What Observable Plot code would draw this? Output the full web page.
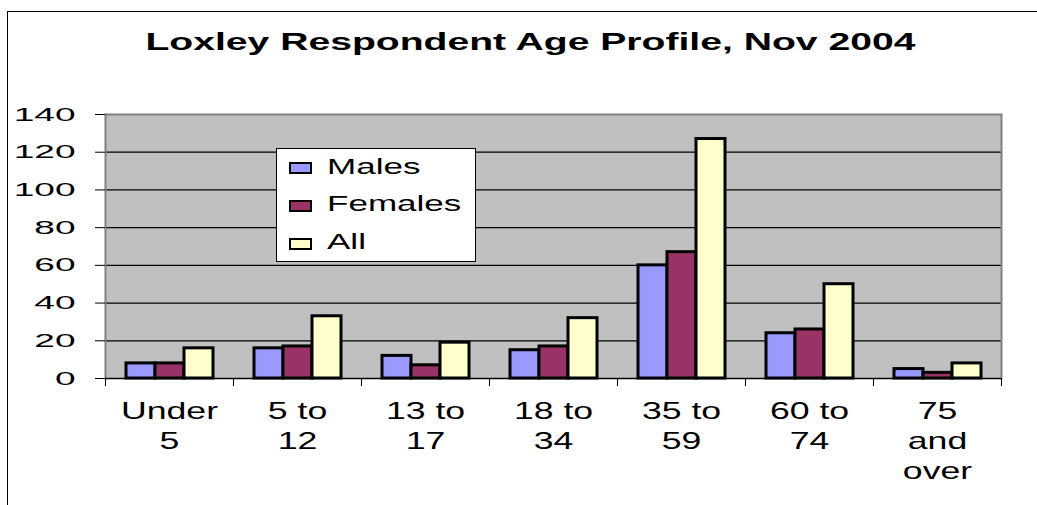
<!DOCTYPE html>
<html>
<head>
<meta charset="utf-8">
<script src="https://cdn.jsdelivr.net/npm/d3@7"></script>
<script src="https://cdn.jsdelivr.net/npm/@observablehq/plot@0.6"></script>
<style>
  html, body { margin: 0; padding: 0; background: white; }
  body { width: 1037px; height: 505px; overflow: hidden; position: relative;
         font-family: "Liberation Sans", Arial, sans-serif; color: black; }
  #page-border { position: absolute; left: 7px; top: 11px; width: 1100px; height: 600px;
         border-left: 1.5px solid black; border-top: 1.5px solid black; pointer-events: none; z-index: 5; }
  #title { position: relative; height: 80px; }
  #title .wrap { position: absolute; left: 0; width: 1060px; top: 30.5px; text-align: center; }
  #title span { display: inline-block; font-weight: bold; font-size: 23px; line-height: 23px;
         transform: scaleX(1.7); transform-origin: center; white-space: nowrap; }
  #chart svg { display: block; }
  #legend { position: absolute; left: 276px; top: 148px; width: 200px; height: 114px; box-sizing: border-box;
         background: white; border: 1.5px solid black; z-index: 4; }
  #legend .sw { position: absolute; width: 23px; height: 12px; box-sizing: border-box; border: 2px solid black; }
  #legend .lb { position: absolute; font-size: 21.5px; line-height: 21.5px; white-space: nowrap;
         transform: scaleX(1.63); transform-origin: left center; }
</style>
</head>
<body>
<div id="page-border"></div>
<div id="title"><div class="wrap"><span id="title-text"></span></div></div>
<div id="chart"></div>
<div id="legend"></div>
<script>
// ---- data ----
const titleText = "Loxley Respondent Age Profile, Nov 2004";
const categories = ["Under\n5", "5 to\n12", "13 to\n17", "18 to\n34", "35 to\n59", "60 to\n74", "75\nand\nover"];
const series = ["Males", "Females", "All"];
const males = [8, 16, 12, 15, 60, 24, 5];
const females = [8, 17, 7, 17, 67, 26, 3];
const all = [16, 33, 19, 32, 127, 50, 8];
const yTicks = [0, 20, 40, 60, 80, 100, 120, 140];
const gridTicks = [20, 40, 60, 80, 100, 120];
const colors = ["#9999FF", "#993366", "#FFFFCC"];

const valuesBySeries = {Males: males, Females: females, All: all};
const rows = [];
categories.forEach((c, i) => series.forEach(s => rows.push({category: c, series: s, value: valuesBySeries[s][i]})));

document.getElementById("title-text").textContent = titleText;

const first = categories[0], last = categories[categories.length - 1];

const plot = Plot.plot({
  width: 1037,
  height: 425,
  marginLeft: 105,
  marginRight: 36,
  marginTop: 34,
  marginBottom: 127,
  style: {fontFamily: "'Liberation Sans', Arial, sans-serif", color: "black", background: "transparent", overflow: "visible"},
  fx: {domain: categories, paddingInner: 0, paddingOuter: 0, label: null},
  x: {domain: series, paddingInner: 0, paddingOuter: 0.66, axis: null},
  y: {domain: [0, 140], axis: null},
  color: {domain: series, range: colors},
  marks: [
    Plot.frame({fill: "#c0c0c0", shapeRendering: "crispEdges"}),
    Plot.gridY({ticks: gridTicks, stroke: "black", strokeOpacity: 1, strokeWidth: 1.2}),
    Plot.ruleY([140], {stroke: "#808080", strokeWidth: 2}),
    Plot.frame({anchor: "left", stroke: "#808080", strokeWidth: 2, fx: () => first}),
    Plot.frame({anchor: "right", stroke: "#808080", strokeWidth: 2, fx: () => last}),
    Plot.barY(rows, {fx: "category", x: "series", y: "value", fill: "series", stroke: "black", strokeWidth: 3}),
    Plot.ruleY([0], {stroke: "black", strokeWidth: 1.5}),
    Plot.frame({anchor: "left", stroke: "black", strokeWidth: 1, insetTop: 264, insetBottom: -7}),
    Plot.frame({anchor: "right", stroke: "black", strokeWidth: 1, insetTop: 264, insetBottom: -7, fx: () => last}),
    Plot.axisY({ticks: yTicks, tickSize: 10, tickPadding: 20, fontSize: 19, label: null, stroke: "black"}),
    Plot.axisFx({anchor: "bottom", tickSize: 0, tickPadding: 19, fontSize: 23, lineHeight: 1.3, label: null})
  ]
});
document.getElementById("chart").appendChild(plot);

// horizontally stretched lettering, as in the reference
function stretch(selector, s) {
  plot.querySelectorAll(selector).forEach(t => {
    const tr = t.getAttribute("transform") || "";
    t.setAttribute("transform", tr + ` scale(${s},1)`);
  });
}
stretch('g[aria-label="y-axis tick label"] text', 1.95);
stretch('g[aria-label="fx-axis tick label"] text', 1.55);

// legend
const legend = document.getElementById("legend");
series.forEach((s, i) => {
  const center = 20.5 + i * 37.75;
  const sw = document.createElement("div");
  sw.className = "sw";
  sw.style.left = "11.5px";
  sw.style.top = (center - 6 - 1.5) + "px";
  sw.style.background = colors[i];
  legend.appendChild(sw);
  const lb = document.createElement("div");
  lb.className = "lb";
  lb.style.left = "49.5px";
  lb.style.top = (center - 11.5 - 1.5) + "px";
  lb.textContent = s;
  legend.appendChild(lb);
});
</script>
</body>
</html>
